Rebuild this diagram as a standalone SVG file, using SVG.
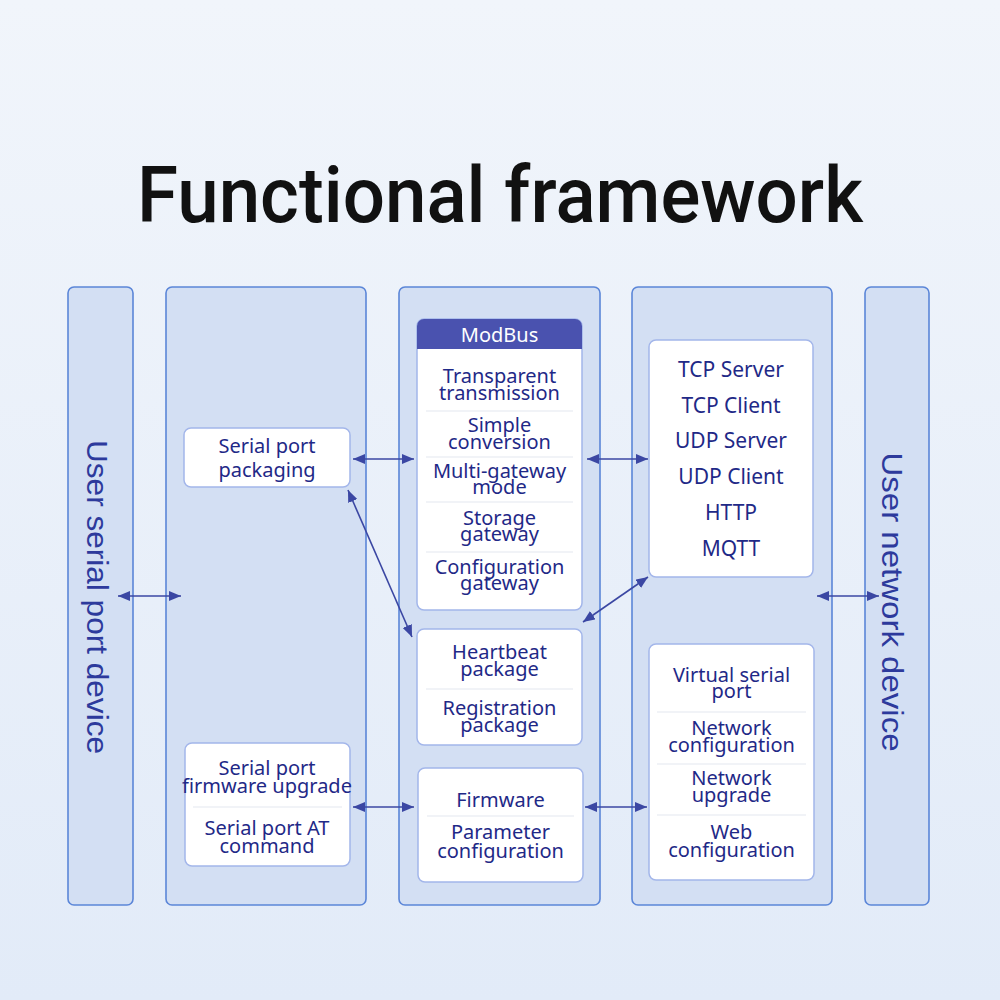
<svg xmlns="http://www.w3.org/2000/svg" width="1000" height="1000" viewBox="0 0 1000 1000">
<defs>
<linearGradient id="bg" x1="0" y1="0" x2="0" y2="1">
<stop offset="0" stop-color="#f1f5fb"/>
<stop offset="1" stop-color="#e2ebf8"/>
</linearGradient>
<marker id="ah" viewBox="0 0 12 10" refX="12" refY="5" markerWidth="12" markerHeight="10" markerUnits="userSpaceOnUse" orient="auto-start-reverse">
<path d="M0,0 L12,5 L0,10 z" fill="#3b47a3"/>
</marker>
<style>
.col{fill:#d3dff3;stroke:#5b86d8;stroke-width:1.6}
.box{fill:#ffffff;stroke:#a3b6ea;stroke-width:1.5}
.div{stroke:#e4e8f0;stroke-width:1.2}
.t{font-family:"Noto Sans","Liberation Sans",sans-serif;font-size:20px;fill:#1f2987;text-anchor:middle}
.t2{font-family:"Noto Sans","Liberation Sans",sans-serif;font-size:21px;fill:#1f2987;text-anchor:middle}
.vt{font-family:"Liberation Sans",Arial,sans-serif;font-size:29px;fill:#2d3a9c;text-anchor:middle}
.con{stroke:#3b47a3;stroke-width:1.6;fill:none;marker-start:url(#ah);marker-end:url(#ah)}
</style>
</defs>
<rect x="0" y="0" width="1000" height="1000" fill="url(#bg)"/>
<text x="500" y="222" text-anchor="middle" font-family="Roboto,'Liberation Sans',sans-serif" font-weight="500" font-size="78" fill="#111111" textLength="726" lengthAdjust="spacingAndGlyphs">Functional framework</text>

<g id="col-serial-device">
<rect class="col" x="68" y="287" width="65" height="618" rx="6"/>
<text class="vt" transform="translate(87,597) rotate(90)" textLength="314" lengthAdjust="spacingAndGlyphs">User serial port device</text>
</g>
<g id="col-serial">
<rect class="col" x="166" y="287" width="200" height="618" rx="6"/>
</g>
<g id="col-core">
<rect class="col" x="399" y="287" width="201" height="618" rx="6"/>
</g>
<g id="col-network">
<rect class="col" x="632" y="287" width="200" height="618" rx="6"/>
</g>
<g id="col-network-device">
<rect class="col" x="865" y="287" width="64" height="618" rx="6"/>
<text class="vt" transform="translate(882,602) rotate(90)" textLength="299" lengthAdjust="spacingAndGlyphs">User network device</text>
</g>

<g id="serial-port-packaging">
<rect class="box" x="184" y="428" width="166" height="59" rx="7"/>
<text class="t" x="267" y="453">Serial port</text>
<text class="t" x="267" y="477">packaging</text>
</g>

<g id="serial-port-firmware">
<rect class="box" x="185" y="743" width="165" height="123" rx="7"/>
<line class="div" x1="193" y1="807" x2="342" y2="807"/>
<text class="t" x="267" y="775">Serial port</text>
<text class="t" x="267" y="793">firmware upgrade</text>
<text class="t" x="267" y="835">Serial port AT</text>
<text class="t" x="267" y="853">command</text>
</g>

<g id="modbus">
<rect class="box" x="417" y="319" width="165" height="291" rx="7"/>
<path d="M417,349 V326 a7,7 0 0 1 7,-7 H575 a7,7 0 0 1 7,7 V349 z" fill="#4a52af"/>
<text x="499.5" y="342" text-anchor="middle" font-family="'Noto Sans','Liberation Sans',sans-serif" font-size="20" fill="#ffffff">ModBus</text>
<line class="div" x1="426" y1="411" x2="573" y2="411"/>
<line class="div" x1="426" y1="457" x2="573" y2="457"/>
<line class="div" x1="426" y1="502" x2="573" y2="502"/>
<line class="div" x1="426" y1="552" x2="573" y2="552"/>
<text class="t" x="499.5" y="383">Transparent</text>
<text class="t" x="499.5" y="400">transmission</text>
<text class="t" x="499.5" y="432">Simple</text>
<text class="t" x="499.5" y="449">conversion</text>
<text class="t" x="499.5" y="478">Multi-gateway</text>
<text class="t" x="499.5" y="494">mode</text>
<text class="t" x="499.5" y="525">Storage</text>
<text class="t" x="499.5" y="541">gateway</text>
<text class="t" x="499.5" y="574">Configuration</text>
<text class="t" x="499.5" y="590">gateway</text>
</g>

<g id="heartbeat">
<rect class="box" x="417" y="629" width="165" height="116" rx="7"/>
<line class="div" x1="426" y1="689" x2="573" y2="689"/>
<text class="t" x="499.5" y="659">Heartbeat</text>
<text class="t" x="499.5" y="676">package</text>
<text class="t" x="499.5" y="715">Registration</text>
<text class="t" x="499.5" y="732">package</text>
</g>

<g id="firmware">
<rect class="box" x="418" y="768" width="165" height="114" rx="7"/>
<line class="div" x1="427" y1="816" x2="574" y2="816"/>
<text class="t" x="500.5" y="807">Firmware</text>
<text class="t" x="500.5" y="839">Parameter</text>
<text class="t" x="500.5" y="858">configuration</text>
</g>

<g id="protocols">
<rect class="box" x="649" y="340" width="164" height="237" rx="7"/>
<text class="t2" x="731" y="377">TCP Server</text>
<text class="t2" x="731" y="413">TCP Client</text>
<text class="t2" x="731" y="448">UDP Server</text>
<text class="t2" x="731" y="484">UDP Client</text>
<text class="t2" x="731" y="520">HTTP</text>
<text class="t2" x="731" y="556">MQTT</text>
</g>

<g id="virtual-serial">
<rect class="box" x="649" y="644" width="165" height="236" rx="7"/>
<line class="div" x1="657" y1="712" x2="806" y2="712"/>
<line class="div" x1="657" y1="764" x2="806" y2="764"/>
<line class="div" x1="657" y1="815" x2="806" y2="815"/>
<text class="t" x="731.5" y="682">Virtual serial</text>
<text class="t" x="731.5" y="698">port</text>
<text class="t" x="731.5" y="735">Network</text>
<text class="t" x="731.5" y="752">configuration</text>
<text class="t" x="731.5" y="785">Network</text>
<text class="t" x="731.5" y="802">upgrade</text>
<text class="t" x="731.5" y="839">Web</text>
<text class="t" x="731.5" y="857">configuration</text>
</g>

<g id="connectors">
<line class="con" x1="118" y1="596" x2="181" y2="596"/>
<line class="con" x1="353" y1="459" x2="414" y2="459"/>
<line class="con" x1="587" y1="459" x2="648" y2="459"/>
<line class="con" x1="348" y1="490" x2="412" y2="637"/>
<line class="con" x1="648" y1="577" x2="583" y2="622"/>
<line class="con" x1="817" y1="596" x2="879" y2="596"/>
<line class="con" x1="353" y1="807" x2="414" y2="807"/>
<line class="con" x1="585" y1="807" x2="647" y2="807"/>
</g>
</svg>
